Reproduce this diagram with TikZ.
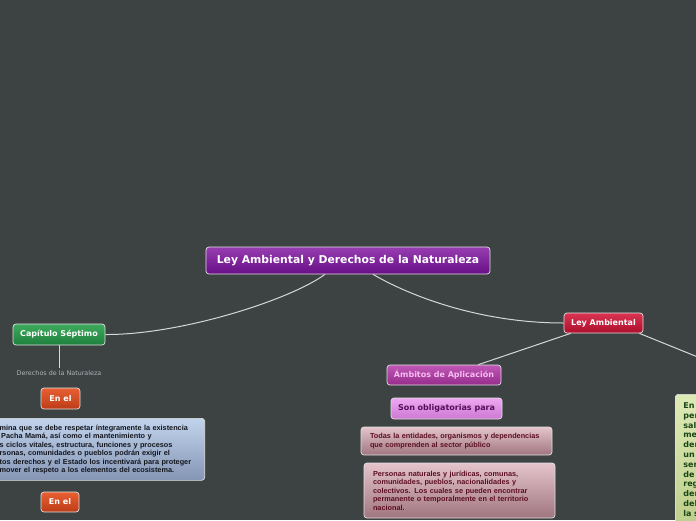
\documentclass[tikz,border=0pt]{standalone}
\usepackage{fontspec}
\setmainfont{DejaVu Sans}
\newfontfamily\arialfont{Liberation Sans}
\usetikzlibrary{positioning}
\definecolor{canvas}{RGB}{61,66,67}
\definecolor{linkgray}{RGB}{215,215,215}
\definecolor{boxline}{RGB}{225,225,225}
\definecolor{rootTop}{RGB}{152,62,178}
\definecolor{rootBot}{RGB}{104,14,134}
\definecolor{capTop}{RGB}{62,170,92}
\definecolor{capBot}{RGB}{30,128,60}
\definecolor{leyTop}{RGB}{218,52,82}
\definecolor{leyBot}{RGB}{172,14,44}
\definecolor{enTop}{RGB}{232,96,50}
\definecolor{enBot}{RGB}{188,60,24}
\definecolor{ambTop}{RGB}{192,86,182}
\definecolor{ambBot}{RGB}{150,44,140}
\definecolor{ambText}{RGB}{248,190,240}
\definecolor{sonTop}{RGB}{238,168,242}
\definecolor{sonBot}{RGB}{204,120,210}
\definecolor{sonText}{RGB}{84,14,90}
\definecolor{pinkTop}{RGB}{228,196,204}
\definecolor{pinkBot}{RGB}{160,118,128}
\definecolor{pinkText}{RGB}{92,14,34}
\definecolor{blueTop}{RGB}{194,212,236}
\definecolor{blueBot}{RGB}{132,150,180}
\definecolor{blueText}{RGB}{20,22,30}
\definecolor{greenTop}{RGB}{222,234,182}
\definecolor{greenBot}{RGB}{188,204,138}
\definecolor{greenText}{RGB}{24,70,20}
\definecolor{labelgray}{RGB}{172,182,182}
\tikzset{
  link/.style={draw=linkgray, line width=1pt},
  mapbox/.style={draw=boxline, line width=0.7pt, rounded corners=3pt, inner sep=3pt, text=white, font=\bfseries\fontsize{8}{9.5}\selectfont},
  rootbox/.style={mapbox, top color=rootTop, bottom color=rootBot, minimum width=284pt, minimum height=27pt, font=\bfseries\fontsize{10.8}{12}\selectfont},
  capbox/.style={mapbox, top color=capTop, bottom color=capBot},
  leybox/.style={mapbox, top color=leyTop, bottom color=leyBot},
  enbox/.style={mapbox, top color=enTop, bottom color=enBot, minimum width=38pt, minimum height=20pt},
  ambbox/.style={mapbox, top color=ambTop, bottom color=ambBot, text=ambText},
  sonbox/.style={mapbox, top color=sonTop, bottom color=sonBot, text=sonText},
  notebox/.style={draw=boxline, line width=0.7pt, rounded corners=3pt, align=left, inner xsep=9pt, inner ysep=5pt, font=\arialfont\bfseries\fontsize{7.3}{8.5}\selectfont},
  pinkbox/.style={notebox, top color=pinkTop, bottom color=pinkBot, text=pinkText, text width=173pt},
  bluebox/.style={notebox, top color=blueTop, bottom color=blueBot, text=blueText},
  greenbox/.style={draw=boxline, line width=0.7pt, rounded corners=3pt, top color=greenTop, bottom color=greenBot, text=greenText, align=left, text width=50pt, inner xsep=8pt, inner ysep=6pt, font=\bfseries\fontsize{8}{9.8}\selectfont},
  tag/.style={text=labelgray, inner sep=2pt, font=\fontsize{6.4}{7.5}\selectfont}
}
\begin{document}
\begin{tikzpicture}[x=1pt, y=-1pt]
  \useasboundingbox (0,0) rectangle (696,520);
  \fill[canvas] (0,0) rectangle (696,520);
  \clip (0,0) rectangle (696,520);

  % central topic
  \node[rootbox] (root) at (348,260.5) {Ley Ambiental y Derechos de la Naturaleza};

  % left branch
  \node[capbox, minimum width=92pt, minimum height=21pt] (cap) at (59,334.5) {Capítulo Séptimo};
  \node[tag] (natlabel) at (59,373) {Derechos de la Naturaleza};
  \node[enbox, minimum width=39pt, minimum height=21pt] (enel1) at (60.5,398.5) {En el};
  \node[bluebox, anchor=north east, text width=200pt, minimum height=62pt, inner xsep=5pt] (pacha) at (205,418)
    {mina que se debe respetar íntegramente la existencia\\
     \hspace*{1.5pt}Pacha Mamá, así como el mantenimiento y\\
     s ciclos vitales, estructura, funciones y procesos\\
     rsonas, comunidades o pueblos podrán exigir el\\
     tos derechos y el Estado los incentivará para proteger\\
     mover el respeto a los elementos del ecosistema.};
  \node[enbox] (enel2) at (60,502) {En el};

  % right branch
  \node[leybox, minimum width=79pt, minimum height=20pt] (ley) at (603.5,323) {Ley Ambiental};
  \node[ambbox, minimum width=114pt, minimum height=20pt] (amb) at (444,375) {Ámbitos de Aplicación};
  \node[sonbox, minimum width=111pt, minimum height=21pt] (son) at (446.5,408.5) {Son obligatorias para};
  \node[pinkbox, minimum height=28pt] (sector) at (456.5,441)
    {Todas la entidades, organismos y dependencias\\que comprenden al sector público};
  \node[pinkbox, minimum height=55pt] (personas) at (459.5,490.5)
    {Personas naturales y jurídicas, comunas,\\comunidades, pueblos, nacionalidades y\\colectivos. Los cuales se pueden encontrar\\permanente o temporalmente en el territorio\\nacional.};
  \node[greenbox, anchor=north west, minimum height=140pt] (salud) at (675,394)
    {En\\per\\sal\\me\\der\\un\\ser\\de\\reg\\der\\del\\la s\\cor};
  \coordinate (offright) at (720,366);

  % connectors
  \draw[link] ([xshift=-23pt]root.south) .. controls (290,300) and (180,335) .. (cap.east);
  \draw[link] ([xshift=25pt]root.south) .. controls (410,296) and (480,323) .. (ley.west);
  \draw[link] (cap.south) -- (natlabel.north);
  \draw[link] ([xshift=7pt]ley.south west) -- ([xshift=-23pt]amb.north east);
  \draw[link] ([xshift=-4pt]ley.south east) -- (offright);
\end{tikzpicture}
\end{document}
